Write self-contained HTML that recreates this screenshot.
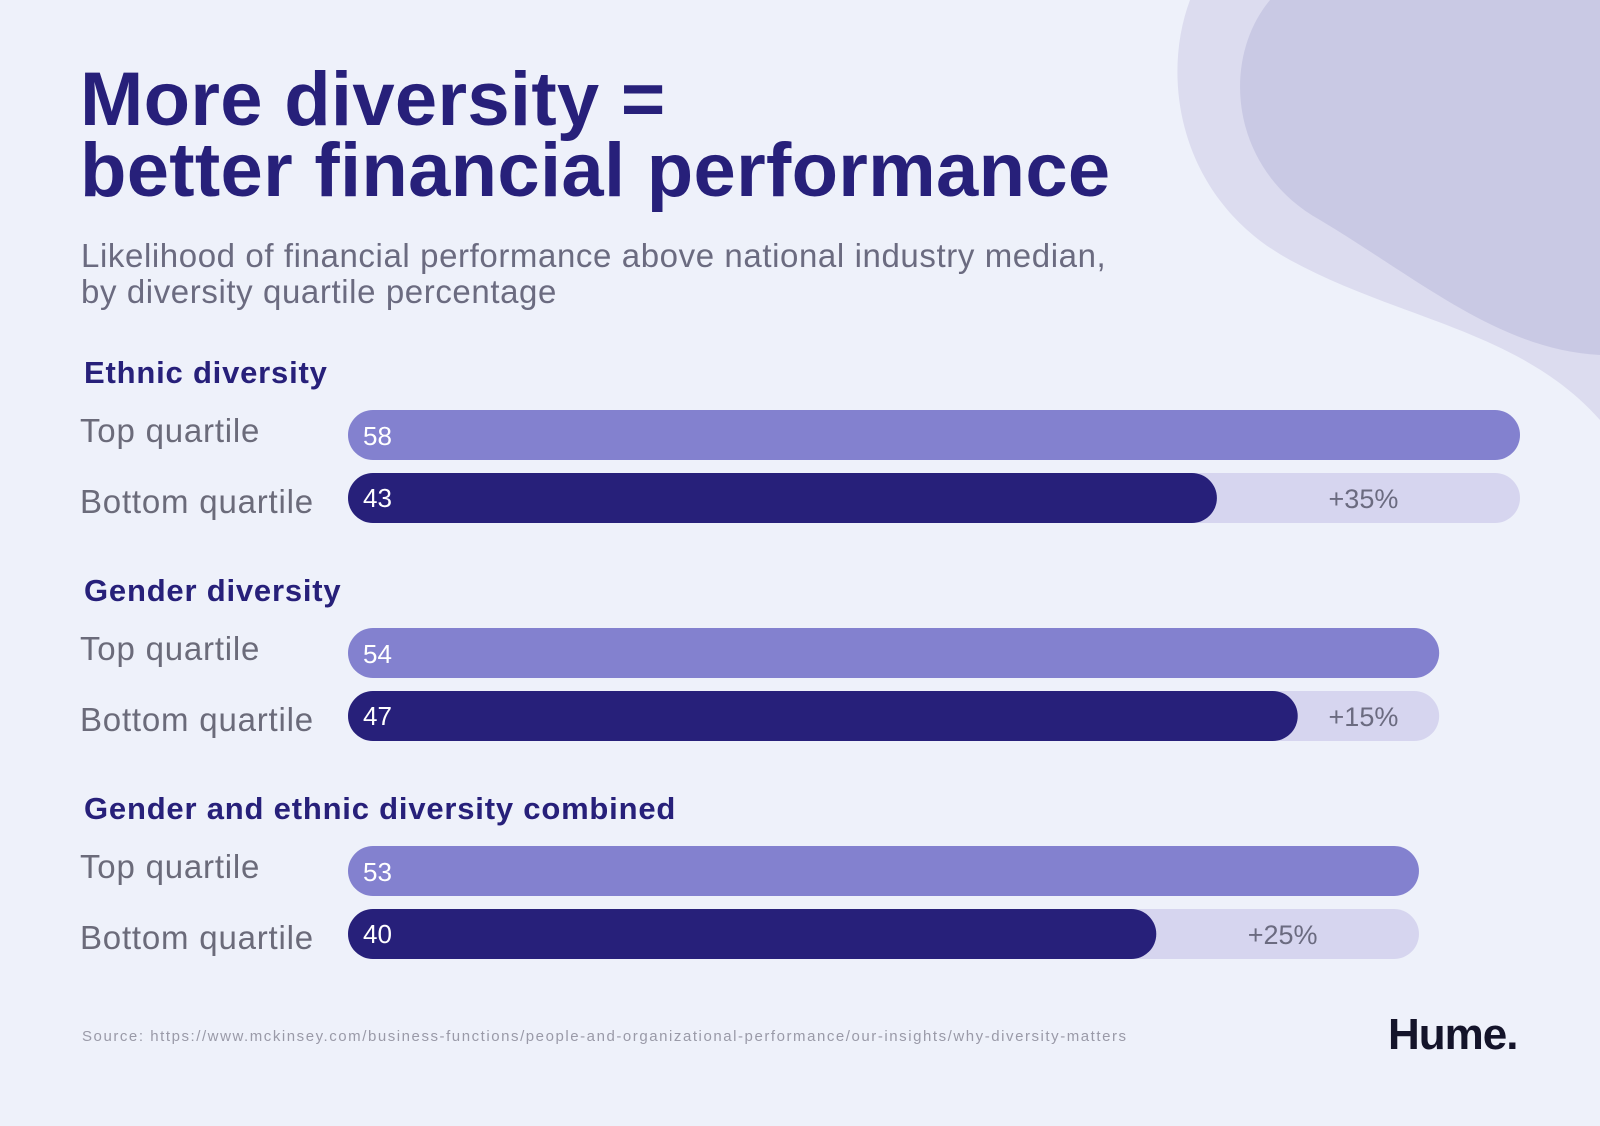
<!DOCTYPE html>
<html><head><meta charset="utf-8"><style>
body{margin:0;width:1600px;height:1126px;background:#eef1fa;overflow:hidden;position:relative;font-family:"Liberation Sans",sans-serif}
.t{position:absolute;white-space:nowrap}
</style></head><body>
<svg width="1600" height="1126" style="position:absolute;left:0;top:0">
<path d="M1190 0 C1160 80,1180 200,1290 260 C1400 320,1520 330,1600 420 L1600 0 Z" fill="#dcdcef"/>
<path d="M1270 0 C1220 60,1230 170,1320 220 C1420 280,1500 350,1600 355 L1600 0 Z" fill="#c9c9e4"/>
</svg>
<div class="t" style="left:80px;top:64px;font-size:76px;font-weight:bold;color:#27207a;line-height:71px;letter-spacing:0.3px">More diversity =<br>better financial performance</div>
<div class="t" style="left:81px;top:238px;font-size:33px;color:#6b6b80;line-height:36px;letter-spacing:0.6px">Likelihood of financial performance above national industry median,<br>by diversity quartile percentage</div>
<svg id="chart" width="1600" height="1126" style="position:absolute;left:0;top:0"></svg>
<div class="t" style="left:82px;top:1028px;font-size:15px;color:#9a9aa8;letter-spacing:1.55px">Source: https://www.mckinsey.com/business-functions/people-and-organizational-performance/our-insights/why-diversity-matters</div>
<div class="t" style="left:1388px;top:1010px;font-size:44px;font-weight:bold;color:#14142a;letter-spacing:-1px">Hume.</div>
<script>
const groups=["Ethnic diversity","Gender diversity","Gender and ethnic diversity combined"];
const topValues=[58,54,53];
const bottomValues=[43,47,40];
const deltas=["+35%","+15%","+25%"];
const svg=document.getElementById('chart');
const NS='http://www.w3.org/2000/svg';
const x0=348, pxPer=1172/58;
const x=v=>x0+v*pxPer;
const groupTop=[410,628,846];
function el(t,a,txt){const e=document.createElementNS(NS,t);for(const k in a)e.setAttribute(k,a[k]);if(txt!=null)e.textContent=txt;svg.appendChild(e);return e;}
groups.forEach((g,i)=>{
 const y=groupTop[i];
 const h=el('text',{x:84,y:y-27,'font-size':31,'font-weight':'bold',fill:'#27207a','letter-spacing':0.8},g);
 
 
 const l1=el('text',{x:80,y:y+32,'font-size':33,fill:'#6b6b7a','letter-spacing':0.8},'Top quartile');
 
 
 const l2=el('text',{x:80,y:y+103,'font-size':33,fill:'#6b6b7a','letter-spacing':0.8},'Bottom quartile');
 
 
 const tw=x(topValues[i])-x0;
 const tb=el('rect',{x:x0,y:y,width:tw,height:50,rx:25,fill:'#8381cf'});
 
 
 const tr=el('rect',{x:x0,y:y+63,width:tw,height:50,rx:25,fill:'#d6d5ef'});
 
 
 const bb=el('rect',{x:x0,y:y+63,width:x(bottomValues[i])-x0,height:50,rx:25,fill:'#27207a'});
 
 
 const v1=el('text',{x:x0+15,y:y+35,'font-size':26,fill:'#fff'},topValues[i]);
 
 
 const v2=el('text',{x:x0+15,y:y+97,'font-size':26,fill:'#fff'},bottomValues[i]);
 
 
 const d=el('text',{x:(x(bottomValues[i])+x(topValues[i]))/2-5,y:y+98,'font-size':27,fill:'#6b6b80','text-anchor':'middle'},deltas[i]);
 
 
});
</script>
</body></html>
